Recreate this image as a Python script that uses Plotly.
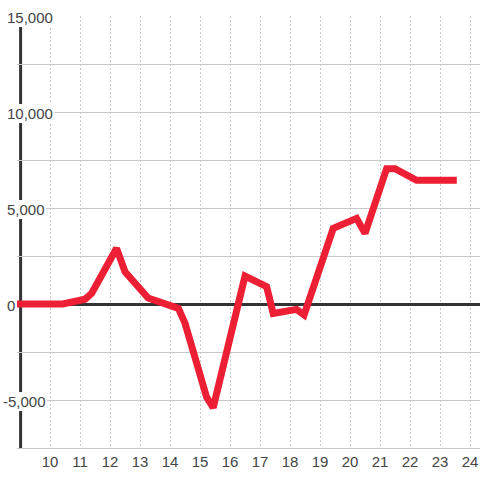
import plotly.graph_objects as go

# data
x_vals = [8.9, 10.43, 11.17, 11.39, 12.22, 12.5, 13.27, 14.28, 14.5, 15.22, 15.44,
          16.5, 17.22, 17.44, 18.22, 18.47, 19.44, 20.22, 20.5, 21.22, 21.5, 22.22, 23.56]
y_vals = [0, 0, 250, 560, 2900, 1680, 310, -225, -1000, -4850, -5400,
          1450, 900, -490, -280, -570, 3940, 4460, 3680, 7050, 7050, 6440, 6440]

x_ticks = list(range(10, 25))
x_tick_text = [str(v) for v in x_ticks]
y_label_vals = [15000, 10000, 5000, 0, -5000]
y_label_text = ["15,000", "10,000", "5,000", "0", "-5,000"]

RED = "#ED1F34"
GRID = "#c8c8c8"
DARK = "#333333"
TXT = "#444444"
FONT = "Liberation Sans, Arial, sans-serif"

W, H = 480, 480
ML, MR, MT, MB = 17, 0, 16, 32
x_range = [8.9, 24.333]
y_range = [-7500, 15000]
plot_w = W - ML - MR

fig = go.Figure()
fig.add_trace(go.Scatter(
    x=x_vals, y=y_vals, mode="lines",
    line=dict(color=RED, width=7),
    hoverinfo="skip", showlegend=False,
))

# dark vertical axis line at x=9
fig.add_shape(type="line", xref="x", yref="paper", x0=9.02, x1=9.02, y0=0, y1=1,
              line=dict(color=DARK, width=3), layer="between")

annotations = []
for v, t in zip(y_label_vals, y_label_text):
    left_px = 6 - (4 if t.startswith("-") else 0)
    annotations.append(dict(
        x=(left_px - ML) / plot_w, xref="paper", xanchor="left",
        y=v, yref="y", yanchor="middle", yshift=-1,
        text=t, showarrow=False,
        font=dict(family=FONT, size=15, color=TXT),
        bgcolor="white", borderpad=1, borderwidth=0,
    ))

fig.update_layout(
    width=W, height=H,
    margin=dict(l=ML, r=MR, t=MT, b=MB, pad=0),
    paper_bgcolor="white", plot_bgcolor="white",
    showlegend=False,
    annotations=annotations,
    xaxis=dict(
        range=x_range, tickmode="array", tickvals=x_ticks, ticktext=x_tick_text,
        showgrid=True, gridcolor=GRID, gridwidth=1, griddash="2px,2px",
        zeroline=False, showline=True, linecolor=GRID, linewidth=1,
        ticks="", tickfont=dict(family=FONT, size=15, color=TXT),
        fixedrange=True,
    ),
    yaxis=dict(
        range=y_range, tick0=0, dtick=2500,
        showgrid=True, gridcolor=GRID, gridwidth=1,
        zeroline=True, zerolinecolor=DARK, zerolinewidth=3,
        showline=False, showticklabels=False, ticks="",
        fixedrange=True,
    ),
)

fig.write_html("out.html", config={"displayModeBar": False},
               post_script="document.body.style.margin='0';document.body.style.overflow='hidden';")
